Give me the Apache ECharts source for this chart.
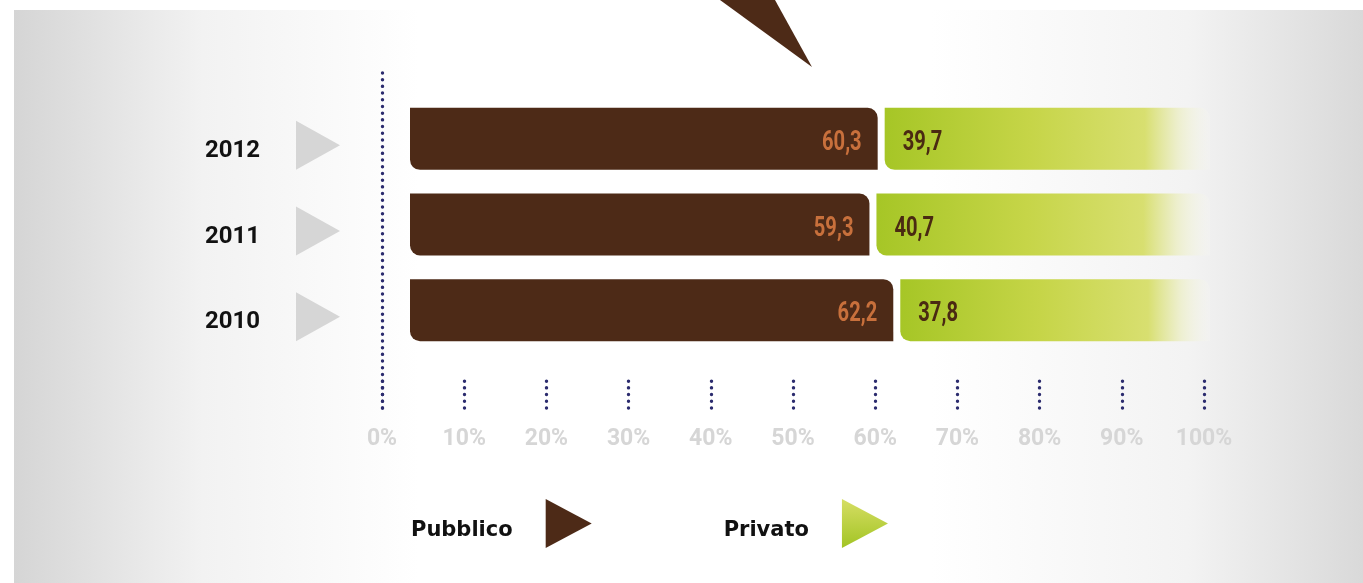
<!DOCTYPE html>
<html>
<head>
<meta charset="utf-8">
<script src="https://cdn.jsdelivr.net/npm/echarts@6/dist/echarts.min.js"></script>
<style>
  html, body { margin: 0; padding: 0; background: #fff; }
  #chart { width: 1363px; height: 583px; }
</style>
</head>
<body>
<div id="chart"></div>
<script>
// dati
var years = ['2012', '2011', '2010'];
var pubblico = [60.3, 59.3, 62.2];
var privato = [39.7, 40.7, 37.8];
var seriesNames = ['Pubblico', 'Privato'];

var BROWN = '#4d2a17';
var fmt = function (v) { return v.toFixed(1).replace('.', ','); };
var BAR_H = 62;

var chart = echarts.init(document.getElementById('chart'));

// etichetta numerica stretta (font condensato simulato con scaleX)
function valueLabel(txt, x, y, align, color) {
  return {
    type: 'text',
    x: x, y: y, scaleX: 0.72,
    style: {
      text: txt, x: 0, y: 0,
      align: align, verticalAlign: 'middle',
      fill: color, font: 'bold 28px Roboto, sans-serif'
    }
  };
}

var option = {
  backgroundColor: '#ffffff',
  animation: false,
  graphic: [
    {
      type: 'rect', z: -100, silent: true,
      shape: { x: 14, y: 10, width: 1349, height: 573 },
      style: {
        fill: new echarts.graphic.LinearGradient(0, 0, 1, 0, [
          { offset: 0, color: '#d5d5d5' },
          { offset: 0.14, color: '#f2f2f2' },
          { offset: 0.3, color: '#ffffff' },
          { offset: 0.68, color: '#ffffff' },
          { offset: 0.87, color: '#f3f3f3' },
          { offset: 1, color: '#d9d9d9' }
        ])
      }
    },
    {
      type: 'polygon', z: 10, silent: true,
      shape: { points: [[720, 0], [775, 0], [812, 67]] },
      style: { fill: BROWN }
    }
  ],
  legend: {
    left: 411,
    top: 499,
    align: 'right',
    itemWidth: 46,
    itemHeight: 49,
    itemGap: 132,
    padding: 0,
    icon: 'path://M0,0 L46,24.5 L0,49 Z',
    formatter: '{t|{name}}',
    textStyle: {
      rich: {
        t: {
          fontFamily: '"DejaVu Sans", sans-serif',
          fontWeight: 'bold',
          fontSize: 21,
          color: '#111',
          padding: [14, 28, 0, 0]
        }
      }
    },
    data: [
      { name: 'Pubblico', itemStyle: { color: BROWN } },
      {
        name: 'Privato',
        itemStyle: {
          color: new echarts.graphic.LinearGradient(0, 0, 0, 1, [
            { offset: 0, color: '#d6de64' },
            { offset: 1, color: '#a2c424' }
          ])
        }
      }
    ]
  },
  grid: [
    { left: 382, right: 159, top: 96, height: 257 },
    { left: 382, right: 159, top: 68, bottom: 175 }
  ],
  xAxis: [
    { gridIndex: 0, type: 'value', min: 0, max: 100, show: false },
    {
      gridIndex: 1, type: 'value', min: 0, max: 100, interval: 10,
      axisLine: { show: false },
      splitLine: { show: false },
      axisTick: {
        show: true, inside: true, length: 27,
        lineStyle: { color: '#2b2b6e', width: 3.4, type: [0.1, 6.6], cap: 'round' }
      },
      axisLabel: {
        formatter: '{value}%',
        margin: 20,
        color: '#d6d6d6',
        fontFamily: 'Roboto, sans-serif',
        fontWeight: 'bold',
        fontSize: 23
      }
    }
  ],
  yAxis: [
    {
      gridIndex: 0, type: 'category', inverse: true, data: years,
      axisLine: { show: false },
      axisTick: { show: false },
      axisLabel: {
        margin: 122,
        color: '#111',
        fontFamily: 'Roboto, sans-serif',
        fontWeight: 'bold',
        fontSize: 24,
        verticalAlign: 'top',
        lineHeight: 24
      }
    },
    {
      gridIndex: 1, type: 'value', min: 0, max: 1,
      axisLabel: { show: false },
      axisTick: { show: false },
      splitLine: { show: false },
      axisLine: {
        show: true,
        lineStyle: { color: '#2b2b6e', width: 3.4, type: [0.1, 6.6], cap: 'round' }
      }
    }
  ],
  series: [
    {
      name: 'Pubblico',
      type: 'custom',
      xAxisIndex: 0, yAxisIndex: 0,
      itemStyle: { color: BROWN },
      encode: { x: 0, y: 1 },
      data: pubblico.map(function (v, i) { return [v, years[i]]; }),
      renderItem: function (params, api) {
        var v = api.value(0);
        var start = api.coord([0, api.value(1)]);
        var end = api.coord([v, api.value(1)]);
        var cy = start[1];
        var x0 = start[0] + 28;
        var ty = cy + 6.5;
        return {
          type: 'group',
          children: [
            {
              type: 'polygon',
              shape: { points: [[start[0] - 86, ty - 24.5], [start[0] - 42, ty], [start[0] - 86, ty + 24.5]] },
              style: { fill: '#d6d6d6' }
            },
            {
              type: 'rect',
              shape: { x: x0, y: cy - BAR_H / 2, width: end[0] - x0, height: BAR_H, r: [0, 10, 0, 10] },
              style: { fill: BROWN }
            },
            valueLabel(fmt(v), end[0] - 16, cy + 4, 'right', '#c8703c')
          ]
        };
      }
    },
    {
      name: 'Privato',
      type: 'custom',
      xAxisIndex: 0, yAxisIndex: 0,
      itemStyle: { color: '#b5cd38' },
      encode: { x: 0, y: 1 },
      data: privato.map(function (v, i) { return [v, years[i], pubblico[i]]; }),
      renderItem: function (params, api) {
        var v = api.value(0);
        var pub = api.value(2);
        var start = api.coord([pub, api.value(1)]);
        var end = api.coord([pub + v, api.value(1)]);
        var cy = start[1];
        var x0 = start[0] + 7;
        var x1 = end[0] + 6;
        return {
          type: 'group',
          children: [
            {
              type: 'rect',
              shape: { x: x0, y: cy - BAR_H / 2, width: x1 - x0, height: BAR_H, r: [0, 10, 0, 10] },
              style: {
                fill: new echarts.graphic.LinearGradient(0, 0, 1, 0, [
                  { offset: 0, color: '#a6c626' },
                  { offset: 0.45, color: '#c6d548' },
                  { offset: 0.8, color: '#d8df70' },
                  { offset: 0.9, color: 'rgba(236,238,200,0.9)' },
                  { offset: 1, color: 'rgba(246,246,242,0.3)' }
                ])
              }
            },
            valueLabel(fmt(v), x0 + 18, cy + 4, 'left', '#4a2a12')
          ]
        };
      }
    }
  ]
};

chart.setOption(option);
</script>
</body>
</html>
